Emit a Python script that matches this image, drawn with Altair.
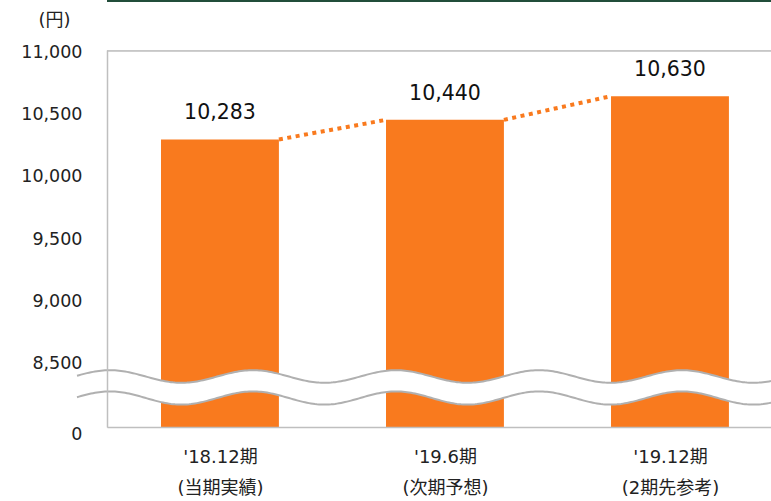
import altair as alt
import pandas as pd

# ---- data ----
categories = ["'18.12期|(当期実績)", "'19.6期|(次期予想)", "'19.12期|(2期先参考)"]
positions = [0, 1, 2]
values = [10283, 10440, 10630]
y_ticks = [0, 8500, 9000, 9500, 10000, 10500, 11000]

ORANGE = "#F97A1E"
GRAY = "#BFBFBF"
FONT = "DejaVu Sans, Noto Sans CJK JP, sans-serif"

W, H = 664, 377
half = 0.262

bars_df = pd.DataFrame({
    "pos": positions,
    "cat": categories,
    "value": values,
})
bars_df["x1"] = bars_df["pos"] - half
bars_df["x2"] = bars_df["pos"] + half
bars_df["label"] = [f"{v:,}" for v in values]

seg_df = pd.DataFrame({
    "xa": [p + half for p in positions[:-1]],
    "xb": [p - half for p in positions[1:]],
    "ya": values[:-1],
    "yb": values[1:],
})

xscale = alt.Scale(domain=[-0.502, 2.449], nice=False, zero=False)
yscale = alt.Scale(domain=[0, 8500, 11000], range=[H, 311.8, 0], nice=False, zero=False)

js_arr = "[" + ",".join('"' + c + '"' for c in categories) + "]"
label_expr = f"split({js_arr}[datum.value], '|')"

x_axis = alt.Axis(values=positions, labelExpr=label_expr, title=None, ticks=False,
                  domain=True, domainColor=GRAY, domainWidth=1.5, grid=False,
                  labelFont=FONT, labelFontSize=18, labelColor="#222",
                  labelPadding=21, labelLineHeight=31, labelBaseline="top", zindex=1)
y_axis = alt.Axis(values=y_ticks, labelExpr="format(datum.value, ',')", title="(円)", titleAngle=0,
                  titleX=-53, titleY=-30, titleAlign="center", titleBaseline="middle",
                  titleFont=FONT, titleFontSize=18, titleFontWeight="normal", titleColor="#222",
                  ticks=False, grid=False, domain=True, domainColor=GRAY, domainWidth=1.5,
                  labelFont=FONT, labelFontSize=17.5, labelColor="#222", labelPadding=25,
                  labelOffset={"condition": {"test": "datum.value == 0", "value": 7}, "value": 2},
                  zindex=1)

base = alt.Chart(bars_df)

bars = base.mark_rect(color=ORANGE).encode(
    x=alt.X("x1:Q", scale=xscale, axis=x_axis),
    x2="x2:Q",
    y=alt.Y("value:Q", scale=yscale, axis=y_axis),
    y2=alt.datum(0),
)

# decorative axis-break wave (pixel coordinates)
wave = (
    alt.Chart(alt.sequence(-30, 666, 2, as_="px"))
    .transform_calculate(
        up="326.5 - 6.3*cos(2*PI*(datum.px - 3)/143)",
        lo="348 - 6.6*cos(2*PI*(datum.px - 3)/143)",
    )
)
wave_fill = wave.mark_area(color="white", clip=False).encode(
    x=alt.X("px:Q", scale=None), y=alt.Y("up:Q", scale=None), y2="lo:Q"
)
wave_up = wave.mark_line(color="#B0B0B0", strokeWidth=2).encode(
    x=alt.X("px:Q", scale=None), y=alt.Y("up:Q", scale=None)
)
wave_lo = wave.mark_line(color="#B0B0B0", strokeWidth=2).encode(
    x=alt.X("px:Q", scale=None), y=alt.Y("lo:Q", scale=None)
)

segs = alt.Chart(seg_df).mark_rule(color=ORANGE, strokeWidth=4, strokeDash=[4, 4.5], strokeCap="butt").encode(
    x=alt.X("xa:Q", scale=xscale), x2="xb:Q",
    y=alt.Y("ya:Q", scale=yscale), y2="yb:Q",
)

labels = base.mark_text(font=FONT, fontSize=20.5, color="#111", baseline="middle", dy=-26).encode(
    x=alt.X("pos:Q", scale=xscale),
    y=alt.Y("value:Q", scale=yscale),
    text="label:N",
)

top_border = alt.Chart(pd.DataFrame({"i": [0]})).mark_rule(color=GRAY, strokeWidth=1.5).encode(
    x=alt.value(0), x2=alt.value(W), y=alt.value(1)
)
green_line = alt.Chart(pd.DataFrame({"i": [0]})).mark_rule(color="#214D3A", strokeWidth=2).encode(
    x=alt.value(0), x2=alt.value(W), y=alt.value(-49)
)

chart = (
    alt.layer(bars, wave_fill, wave_up, wave_lo, segs, labels, top_border, green_line)
    .properties(width=W, height=H, autosize=alt.AutoSizeParams(type="none"),
                padding={"left": 107, "top": 50, "right": 0, "bottom": 74})
    .configure_view(stroke=None)
    .configure(background="white")
)

chart.save("out.html", embed_options={"renderer": "svg", "actions": False})
